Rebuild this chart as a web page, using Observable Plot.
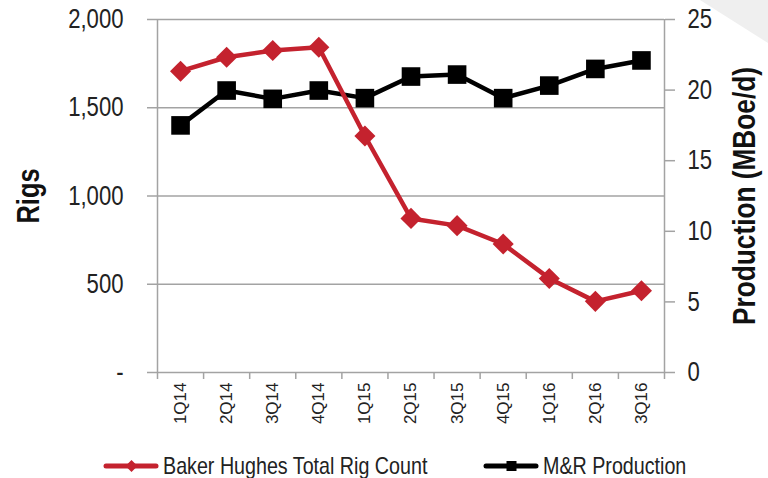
<!DOCTYPE html>
<html>
<head>
<meta charset="utf-8">
<script src="https://cdn.jsdelivr.net/npm/d3@7"></script>
<script src="https://cdn.jsdelivr.net/npm/@observablehq/plot@0.6"></script>
<style>
  html, body { margin: 0; padding: 0; background: #fff; }
  body { width: 768px; height: 478px; overflow: hidden; position: relative;
         font-family: "Liberation Sans", Arial, sans-serif; color: #222; }
  #deco { position: absolute; left: 0; top: 0; width: 768px; height: 478px; background: #efefef;
          clip-path: polygon(700px 0, 768px 0, 768px 43px); }
  #chart { position: absolute; left: 0; top: 0; }
  #legend { position: absolute; left: 0; top: 454px; width: 768px; height: 24px; font-size: 24px; }
  .item { position: absolute; top: 0; display: flex; align-items: center; height: 24px; white-space: nowrap; }
  .item svg { display: block; margin-right: 4px; }
  .item span { display: inline-block; transform: scaleX(0.82); transform-origin: 0 50%; }
</style>
</head>
<body>
<div id="deco"></div>
<div id="chart"></div>
<div id="legend"></div>
<script>
const quarters = ["1Q14","2Q14","3Q14","4Q14","1Q15","2Q15","3Q15","4Q15","1Q16","2Q16","3Q16"];
const rigs = [1707, 1786, 1824, 1843, 1340, 873, 832, 728, 533, 403, 463];
const production = [17.5, 19.97, 19.38, 19.97, 19.43, 20.96, 21.1, 19.43, 20.32, 21.5, 22.1];
const rigTicks = [0, 500, 1000, 1500, 2000];
const rigTickLabels = ["-", "500", "1,000", "1,500", "2,000"];
const prodTicks = [0, 5, 10, 15, 20, 25];
const seriesNames = ["Baker Hughes Total Rig Count", "M&R Production"];
const colors = ["#c4222e", "#000000"];

const k = rigTicks[rigTicks.length - 1] / prodTicks[prodTicks.length - 1];
const idx = quarters.map((_, i) => i);
const boundaries = quarters.map((_, i) => i - 0.5).concat([quarters.length - 0.5]);
const rigData = idx.map(i => ({i, v: rigs[i]}));
const prodData = idx.map(i => ({i, v: production[i] * k}));
const grid = "#a3a3a3";
const sans = '"Liberation Sans", Arial, sans-serif';

const chart = Plot.plot({
  width: 768,
  height: 445,
  marginLeft: 157,
  marginRight: 104,
  marginTop: 19,
  marginBottom: 73,
  style: {fontFamily: sans, background: "transparent", color: "#222"},
  x: {domain: [-0.5, quarters.length - 0.5]},
  y: {domain: [0, 2000]},
  marks: [
    Plot.gridY(rigTicks, {stroke: grid, strokeOpacity: 1, strokeWidth: 1.5}),
    Plot.ruleX([boundaries[0], boundaries[boundaries.length - 1]], {y1: 0, y2: 2000, stroke: grid, strokeWidth: 1.5}),
    Plot.axisY(rigTicks, {anchor: "left", tickFormat: d => rigTickLabels[rigTicks.indexOf(d)], tickSize: 10, tickPadding: 24, fontSize: 27, label: null, stroke: grid, strokeWidth: 1.5}),
    Plot.axisY(prodTicks.map(d => d * k), {anchor: "right", tickFormat: d => String(Math.round(d / k)), tickSize: 10, tickPadding: 13, fontSize: 27, label: null, stroke: grid, strokeWidth: 1.5}),
    Plot.axisX(boundaries, {tickFormat: () => "", tickSize: 7, stroke: grid, strokeWidth: 1.5, label: null}),
    Plot.axisX(idx, {tickFormat: i => quarters[i], tickSize: 0, tickPadding: 10, tickRotate: -90, fontSize: 17, label: null}),
    Plot.text(["Rigs"], {frameAnchor: "left", textAnchor: "middle", dx: -128, rotate: -90, fontSize: 31, fontWeight: "bold", fill: "#111"}),
    Plot.text(["Production (MBoe/d)"], {frameAnchor: "right", textAnchor: "middle", dx: 80, rotate: -90, fontSize: 32, fontWeight: "bold", fill: "#111"}),
    Plot.line(prodData, {x: "i", y: "v", stroke: colors[1], strokeWidth: 4.5}),
    Plot.dot(prodData, {x: "i", y: "v", symbol: "square", r: 10.5, fill: colors[1], stroke: "none"}),
    Plot.line(rigData, {x: "i", y: "v", stroke: colors[0], strokeWidth: 4.5}),
    Plot.dot(rigData, {x: "i", y: "v", symbol: "diamond2", r: 9.5, fill: colors[0], stroke: "none"})
  ]
});
document.getElementById("chart").appendChild(chart);

// emulate a narrow typeface (Arial Narrow): condense glyphs along the text direction
const squeeze = 0.82;
chart.querySelectorAll("text").forEach(t => {
  const g = t.closest("g[font-size]");
  if (g && g.getAttribute("font-size") === "17") return;
  const own = t.parentNode.getCTM().inverse().multiply(t.getCTM());
  const m = own.scaleNonUniform(squeeze, 1);
  t.setAttribute("transform", `matrix(${m.a},${m.b},${m.c},${m.d},${m.e},${m.f})`);
  const x = t.getAttribute("x");
  if (x != null && x !== "") t.setAttribute("x", String(parseFloat(x) / squeeze));
});

// legend
const legend = document.getElementById("legend");
const lefts = [103, 483];
seriesNames.forEach((name, s) => {
  const item = document.createElement("div");
  item.className = "item";
  item.style.left = lefts[s] + "px";
  const marker = s === 0
    ? `<path d="M28.5,4 L34.5,10 L28.5,16 L22.5,10Z" fill="${colors[s]}"/>`
    : `<rect x="23.5" y="5" width="10" height="10" fill="${colors[s]}"/>`;
  item.innerHTML = `<svg width="56" height="20"><line x1="3" y1="10" x2="53" y2="10" stroke="${colors[s]}" stroke-width="5" stroke-linecap="round"/>${marker}</svg><span>${name}</span>`;
  legend.appendChild(item);
});
</script>
</body>
</html>
